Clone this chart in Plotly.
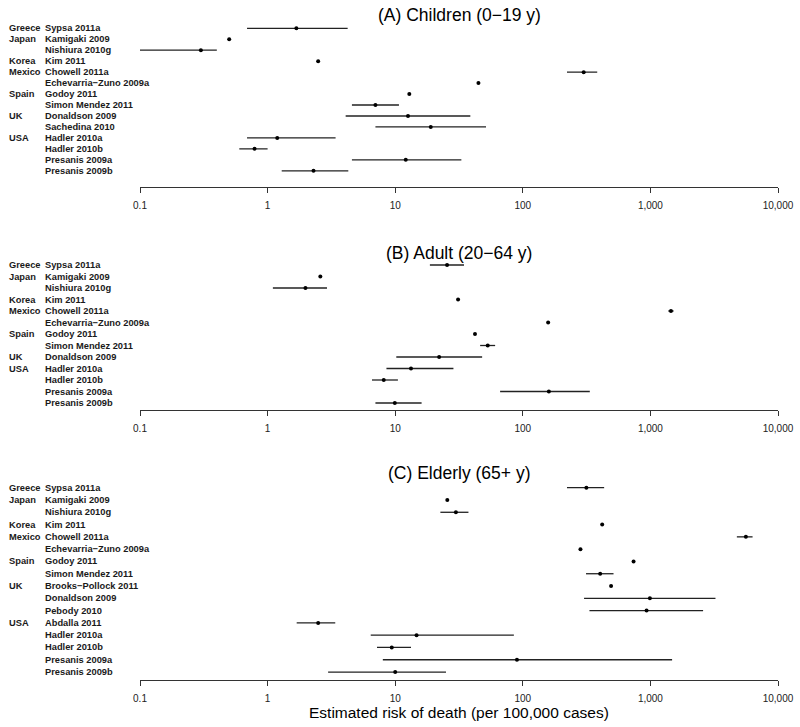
import plotly.graph_objects as go

# ---------------- data ----------------
# Panel A: Children (0-19 y)
a_country = ["Greece", "Japan", "", "Korea", "Mexico", "", "Spain", "", "UK", "", "USA", "", "", ""]
a_study = ["Sypsa 2011a", "Kamigaki 2009", "Nishiura 2010g", "Kim 2011", "Chowell 2011a",
           "Echevarria\u2212Zuno 2009a", "Godoy 2011", "Simon Mendez 2011", "Donaldson 2009",
           "Sachedina 2010", "Hadler 2010a", "Hadler 2010b", "Presanis 2009a", "Presanis 2009b"]
a_est = [1.68, 0.50, 0.30, 2.49, 300, 44.9, 12.9, 7.0, 12.6, 19.0, 1.19, 0.79, 12.1, 2.29]
a_lo = [0.69, None, 0.10, None, 222, None, None, 4.58, 4.09, 7.0, 0.69, 0.60, 4.58, 1.29]
a_hi = [4.24, None, 0.40, None, 383, None, None, 10.7, 38.8, 51.5, 3.41, 1.0, 33.0, 4.29]

# Panel B: Adult (20-64 y)
b_country = ["Greece", "Japan", "", "Korea", "Mexico", "", "Spain", "", "UK", "USA", "", "", ""]
b_study = ["Sypsa 2011a", "Kamigaki 2009", "Nishiura 2010g", "Kim 2011", "Chowell 2011a",
           "Echevarria\u2212Zuno 2009a", "Godoy 2011", "Simon Mendez 2011", "Donaldson 2009",
           "Hadler 2010a", "Hadler 2010b", "Presanis 2009a", "Presanis 2009b"]
b_est = [25.5, 2.59, 1.98, 31.1, 1449, 158, 42.2, 53.1, 22.1, 13.3, 8.13, 160, 9.93]
b_lo = [18.7, None, 1.10, None, 1380, None, None, 46.3, 10.2, 8.54, 6.58, 66.4, 7.0]
b_hi = [34.6, None, 2.92, None, 1520, None, None, 60.7, 48.0, 28.6, 10.5, 335, 16.1]

# Panel C: Elderly (65+ y)
c_country = ["Greece", "Japan", "", "Korea", "Mexico", "", "Spain", "", "UK", "", "", "USA", "", "", "", ""]
c_study = ["Sypsa 2011a", "Kamigaki 2009", "Nishiura 2010g", "Kim 2011", "Chowell 2011a",
           "Echevarria\u2212Zuno 2009a", "Godoy 2011", "Simon Mendez 2011", "Brooks\u2212Pollock 2011",
           "Donaldson 2009", "Pebody 2010", "Abdalla 2011", "Hadler 2010a", "Hadler 2010b",
           "Presanis 2009a", "Presanis 2009b"]
c_est = [315, 25.6, 29.9, 419, 5600, 283, 738, 404, 492, 991, 933, 2.49, 14.7, 9.4, 90, 10.0]
c_lo = [222, None, 22.6, None, 4760, None, None, 313, None, 302, 333, 1.69, 6.43, 7.2, 8.0, 2.98]
c_hi = [434, None, 37.5, None, 6320, None, None, 514, None, 3236, 2588, 3.39, 85.1, 13.3, 1479, 25.0]

titles = ["(A) Children (0\u221219 y)", "(B) Adult (20\u221264 y)", "(C) Elderly (65+ y)"]
tick_vals = [0.1, 1, 10, 100, 1000, 10000]
tick_text = ["0.1", "1", "10", "100", "1,000", "10,000"]
x_title = "Estimated risk of death (per 100,000 cases)"

# ---------------- layout geometry (pixels) ----------------
W, H = 800, 727
L, R = 140, 22
panels = [
    dict(country=a_country, study=a_study, est=a_est, lo=a_lo, hi=a_hi,
         first=28.3, step=10.96, top=20, bottom=187.3, title_y=15),
    dict(country=b_country, study=b_study, est=b_est, lo=b_lo, hi=b_hi,
         first=265.0, step=11.5, top=257, bottom=410.0, title_y=253),
    dict(country=c_country, study=c_study, est=c_est, lo=c_lo, hi=c_hi,
         first=487.7, step=12.29, top=480, bottom=680.0, title_y=472.7),
]

fig = go.Figure()
annotations = []
pw = W - L - R
FAM = "Liberation Sans, Arial, sans-serif"
LABEL_FONT = dict(family=FAM, size=9.3, color="#1a1a1a")

for k, p in enumerate(panels):
    xa = "x" if k == 0 else f"x{k+1}"
    ya = "y" if k == 0 else f"y{k+1}"
    n = len(p["study"])
    ys = [-i for i in range(n)]
    plus = [(h - e) if h is not None else 0 for e, h in zip(p["est"], p["hi"])]
    minus = [(e - l) if l is not None else 0 for e, l in zip(p["est"], p["lo"])]
    fig.add_trace(go.Scatter(
        x=p["est"], y=ys, mode="markers", xaxis=xa, yaxis=ya,
        marker=dict(color="black", size=4),
        error_x=dict(type="data", symmetric=False, array=plus, arrayminus=minus,
                     width=0, thickness=1.3, color="#222222"),
        showlegend=False, hoverinfo="x+text", text=p["study"],
    ))
    i_top = (p["top"] - p["first"]) / p["step"]
    i_bot = (p["bottom"] - p["first"]) / p["step"]
    dom = [1 - p["bottom"] / H, 1 - p["top"] / H]
    axkey = "xaxis" if k == 0 else f"xaxis{k+1}"
    aykey = "yaxis" if k == 0 else f"yaxis{k+1}"
    fig.update_layout({
        axkey: dict(type="log", range=[-1, 4], domain=[0, 1], anchor=ya,
                    tickvals=tick_vals, ticktext=tick_text, ticks="outside",
                    ticklen=5, tickwidth=1, tickcolor="#333333",
                    showline=True, linecolor="#333333", linewidth=1,
                    showgrid=False, zeroline=False, ticklabelstandoff=4,
                    tickfont=dict(family=FAM, size=10, color="#222222")),
        aykey: dict(range=[-i_bot, -i_top], domain=dom, anchor=xa,
                    visible=False, showgrid=False, zeroline=False, fixedrange=True),
    })
    for i in range(n):
        if p["country"][i]:
            annotations.append(dict(x=(7 - L) / pw, y=-i, xref="paper", yref=ya,
                                    text="<b>" + p["country"][i] + "</b>", showarrow=False,
                                    xanchor="left", yanchor="middle", font=LABEL_FONT))
        annotations.append(dict(x=(43 - L) / pw, y=-i, xref="paper", yref=ya,
                                text="<b>" + p["study"][i] + "</b>", showarrow=False,
                                xanchor="left", yanchor="middle", font=LABEL_FONT))
    annotations.append(dict(x=0.5, y=1 - p["title_y"] / H, xref="paper", yref="paper",
                            text=titles[k], showarrow=False, xanchor="center", yanchor="middle",
                            font=dict(family=FAM, size=17.5, color="black")))

annotations.append(dict(x=0.5, y=1 - 712 / H, xref="paper", yref="paper", text=x_title,
                        showarrow=False, xanchor="center", yanchor="middle",
                        font=dict(family=FAM, size=15.5, color="black")))

fig.update_layout(width=W, height=H, margin=dict(l=L, r=R, t=0, b=0),
                  paper_bgcolor="white", plot_bgcolor="white",
                  annotations=annotations, showlegend=False)

fig.write_html("out.html", config={"displayModeBar": False},
               post_script="document.body.style.margin='0';document.body.style.overflow='hidden';")
